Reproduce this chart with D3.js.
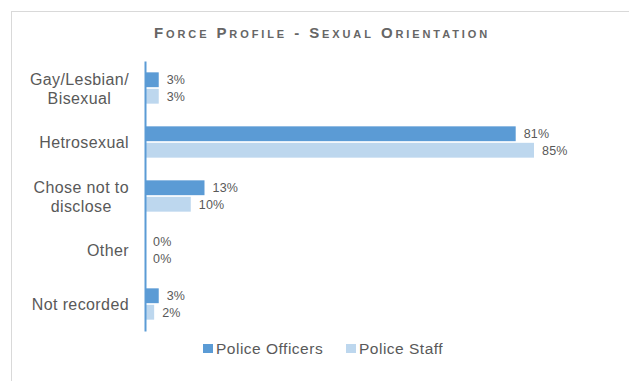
<!DOCTYPE html>
<html><head><meta charset="utf-8">
<script src="https://cdn.jsdelivr.net/npm/d3@7"></script>
<style>body{margin:0;background:#fff;}svg{display:block;font-family:"Liberation Sans",Arial,sans-serif;}</style>
</head><body><svg id="c" width="629" height="381"></svg>
<script>
const categories = ["Gay/Lesbian/\nBisexual", "Hetrosexual", "Chose not to\ndisclose", "Other", "Not recorded"];
const officers = [3, 81, 13, 0, 3];
const staff = [3, 85, 10, 0, 2];
const seriesNames = ["Police Officers", "Police Staff"];
const colors = ["#5b9bd5", "#bdd7ee"];

const svg = d3.select("#c");
svg.append("rect").attr("x",11.5).attr("y",11.5).attr("width",640).attr("height",400)
  .attr("fill","#fff").attr("stroke","#d9d9d9");

svg.append("text").attr("x",322).attr("y",38).attr("text-anchor","middle")
  .attr("fill","#666").attr("font-size",15).attr("font-weight","bold")
  .style("font-variant","small-caps").attr("letter-spacing",2.9)
  .text("Force Profile - Sexual Orientation");

const plotLeft = 145, plotTop = 61, plotBottom = 331;
const x = d3.scaleLinear().domain([0, 85]).range([plotLeft, plotLeft + 389]);
const y0 = d3.scaleBand().domain(d3.range(categories.length)).range([plotTop, plotBottom]).paddingInner(0.42).paddingOuter(0.21);
const y1 = d3.scaleBand().domain([0,1]).range([0, y0.bandwidth()]).paddingInner(0.1);

const data = [officers, staff];
data.forEach((vals, s) => {
  svg.append("g").selectAll("rect").data(vals).join("rect")
    .attr("x", x(0)).attr("y", (d,i) => y0(i) + y1(s))
    .attr("width", d => x(d) - x(0)).attr("height", y1.bandwidth())
    .attr("fill", colors[s]);
  svg.append("g").selectAll("text").data(vals).join("text")
    .attr("x", d => x(d) + 8).attr("y", (d,i) => y0(i) + y1(s) + y1.bandwidth()/2 + 4.5)
    .attr("font-size", 12.5).attr("letter-spacing", 0.2).attr("fill", "#595959").text(d => d + "%");
});

// axis
const yAxis = d3.axisLeft(d3.scaleLinear().range([plotTop, plotBottom])).ticks(0).tickSize(0).tickFormat("");
const ag = svg.append("g").attr("transform", `translate(${plotLeft},0)`).call(yAxis);
ag.select(".domain").attr("stroke", colors[0]).attr("stroke-width", 2);

// category labels
const labelRight = 129;
categories.forEach((c, i) => {
  const lines = c.split("\n");
  const cy = y0(i) + y0.bandwidth()/2;
  const t = svg.append("text").attr("fill","#595959").attr("font-size",16).attr("letter-spacing",0.4);
  const spans = lines.map((l, k) => t.append("tspan").attr("x", labelRight).attr("text-anchor","end")
     .attr("y", cy + 6 + (k - (lines.length-1)/2) * 19).text(l));
  if (lines.length > 1) {
    const w = d3.max(spans.map(s => s.node().getComputedTextLength()));
    spans.forEach(s => s.attr("text-anchor","middle").attr("x", labelRight - w/2));
  }
});

// legend
const lx = [203, 346];
seriesNames.forEach((n, i) => {
  svg.append("rect").attr("x", lx[i]).attr("y", 344).attr("width", 10).attr("height", 9).attr("fill", colors[i]);
  svg.append("text").attr("x", lx[i] + 13).attr("y", 354).attr("font-size", 15.5).attr("letter-spacing", 0.5).attr("fill", "#595959").text(n);
});
</script></body></html>
